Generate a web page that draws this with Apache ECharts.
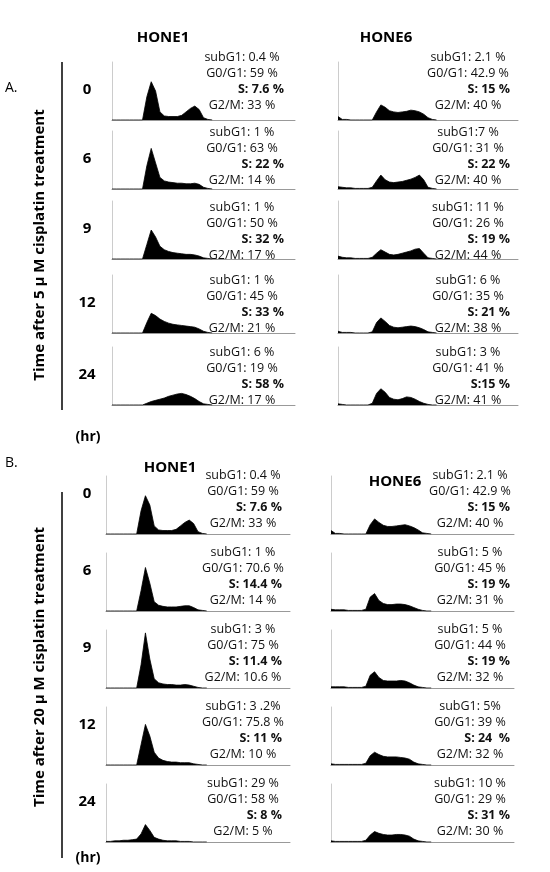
<!DOCTYPE html>
<html><head><meta charset="utf-8">
<script src="https://cdn.jsdelivr.net/npm/echarts@6/dist/echarts.min.js"></script>
<style>html,body{margin:0;padding:0;background:#fff}#c{width:550px;height:872px}</style>
</head><body><div id="c"></div>
<script>
const times = ['0','6','9','12','24'];
const cells = ['HONE1','HONE6'];
// histograms (DNA content bins), per condition / cell line / time
const histA1 = [
 [0,0,0,0,0,0,0,0,40,66,50,14,7,6,6,6,8,14,20,24,18,4,1,0],
 [0,0,0,0,0,0,0,0,40,70,45,20,14,12,11,10,10,9,9,10,8,3,1,0],
 [0,0,0,0,0,0,0,0,25,50,38,22,16,13,11,10,9,8,8,7,5,2,1,0],
 [0,0,0,0,0,0,0,0,18,34,30,24,20,17,15,14,13,12,11,10,7,3,1,0],
 [0,0,0,0,0,0,0,0,3,6,8,10,12,15,17,19,20,18,15,11,6,2,1,0]
];
const histA6 = [
 [6,1,1,0,0,0,0,0,0,14,26,22,16,14,13,14,15,17,16,14,10,4,1,0],
 [4,3,2,2,1,1,1,1,3,14,24,16,12,11,12,13,15,17,20,24,16,3,1,0],
 [5,3,2,2,1,1,1,1,3,10,16,12,8,7,8,10,12,14,17,18,10,2,1,0],
 [3,1,1,1,0,0,0,0,2,18,26,20,13,10,9,10,11,12,11,9,6,2,1,0],
 [2,1,0,0,0,0,0,0,3,20,28,22,13,10,9,11,14,13,10,6,3,1,0,0]
];
const histB1 = [
 [0,0,0,0,0,0,0,0,40,66,50,14,7,6,6,6,8,14,20,24,18,4,1,0],
 [0,0,0,0,0,0,0,0,35,75,48,16,10,8,7,7,7,8,9,9,6,2,1,0],
 [0,0,0,0,0,0,0,0,40,95,50,16,9,7,6,6,5,5,6,5,3,1,0,0],
 [0,0,0,0,0,0,0,0,35,70,50,22,12,8,6,5,5,4,4,4,2,1,0,0],
 [1,1,2,2,3,3,4,5,14,30,20,8,5,3,2,2,2,1,1,1,0,0,0,0]
];
const histB6 = [
 [6,1,1,0,0,0,0,0,0,16,26,20,15,13,13,14,15,16,14,11,7,2,1,0],
 [3,2,2,2,1,1,1,1,3,24,30,18,13,11,11,12,12,11,9,6,3,1,0,0],
 [2,2,2,2,1,1,1,1,3,22,28,18,13,12,12,12,13,12,9,5,2,1,0,0],
 [2,1,1,1,1,1,1,1,3,16,22,18,15,14,14,14,13,12,10,5,2,1,0,0],
 [2,1,1,1,1,1,1,1,3,12,18,15,13,12,12,13,13,12,10,5,2,1,0,0]
];
const statsA1 = [
 ['subG1: 0.4 %','G0/G1: 59 %','S: 7.6 %','G2/M: 33 %'],
 ['subG1: 1 %','G0/G1: 63 %','S: 22 %','G2/M: 14 %'],
 ['subG1: 1 %','G0/G1: 50 %','S: 32 %','G2/M: 17 %'],
 ['subG1: 1 %','G0/G1: 45 %','S: 33 %','G2/M: 21 %'],
 ['subG1: 6 %','G0/G1: 19 %','S: 58 %','G2/M: 17 %']
];
const statsA6 = [
 ['subG1: 2.1 %','G0/G1: 42.9 %','S: 15 %','G2/M: 40 %'],
 ['subG1:7 %','G0/G1: 31 %','S: 22 %','G2/M: 40 %'],
 ['subG1: 11 %','G0/G1: 26 %','S: 19 %','G2/M: 44 %'],
 ['subG1: 6 %','G0/G1: 35 %','S: 21 %','G2/M: 38 %'],
 ['subG1: 3 %','G0/G1: 41 %','S:15 %','G2/M: 41 %']
];
const statsB1 = [
 ['subG1: 0.4 %','G0/G1: 59 %','S: 7.6 %','G2/M: 33 %'],
 ['subG1: 1 %','G0/G1: 70.6 %','S: 14.4 %','G2/M: 14 %'],
 ['subG1: 3 %','G0/G1: 75 %','S: 11.4 %','G2/M: 10.6 %'],
 ['subG1: 3 .2%','G0/G1: 75.8 %','S: 11 %','G2/M: 10 %'],
 ['subG1: 29 %','G0/G1: 58 %','S: 8 %','G2/M: 5 %']
];
const statsB6 = [
 ['subG1: 2.1 %','G0/G1: 42.9 %','S: 15 %','G2/M: 40 %'],
 ['subG1: 5 %','G0/G1: 45 %','S: 19 %','G2/M: 31 %'],
 ['subG1: 5 %','G0/G1: 44 %','S: 19 %','G2/M: 32 %'],
 ['subG1: 5%','G0/G1: 39 %','S: 24  %','G2/M: 32 %'],
 ['subG1: 10 %','G0/G1: 29 %','S: 31 %','G2/M: 30 %']
];

const F = 'Open Sans, Liberation Sans, sans-serif';
const grids = [], xAxes = [], yAxes = [], series = [], graphic = [];
function panel(hist, stats, left, right, base, txtTop, cx, sr) {
  const i = grids.length;
  grids.push({left: left, width: right-left, top: base-58, height: 58});
  xAxes.push({gridIndex:i, type:'value', min:0, max:42, axisLine:{lineStyle:{color:'#999',width:1}},
    axisTick:{show:false}, axisLabel:{show:false}, splitLine:{show:false}});
  yAxes.push({gridIndex:i, type:'value', min:0, max:100, axisLine:{show:true,lineStyle:{color:'#ccc',width:1}},
    axisTick:{show:false}, axisLabel:{show:false}, splitLine:{show:false}});
  series.push({type:'line', xAxisIndex:i, yAxisIndex:i, data: hist.map((v,k)=>[k,v]),
    symbol:'none', lineStyle:{color:'#000',width:0.8}, areaStyle:{color:'#000',opacity:1}, silent:true});
  stats.forEach((s,k)=>{
    const bold = k===2;
    graphic.push({type:'text', x: bold? sr : cx, y: txtTop + k*16.3,
      style:{text:s, font:(bold?'bold ':'')+'12.5px '+F, fill:'#111', textAlign: bold?'right':'center', textVerticalAlign:'middle'}});
  });
}
const aBase=[120,189,259,333,405], aTxt=[57,132,207,280,352];
const bBase=[534,611,688,765,842], bTxt=[475,552,629,706,783];
for (let r=0;r<5;r++){
  panel(histA1[r], statsA1[r], 112, 295, aBase[r], aTxt[r], 242, 284);
  panel(histA6[r], statsA6[r], 338, 518, aBase[r], aTxt[r], 468, 510);
  panel(histB1[r], statsB1[r], 106, 290, bBase[r], bTxt[r], 243, 282);
  panel(histB6[r], statsB6[r], 331, 514, bBase[r], bTxt[r], 470, 510);
}
function txt(t,x,y,size,bold,align){graphic.push({type:'text',x:x,y:y,style:{text:t,font:(bold?'bold ':'')+size+'px '+F,fill:'#000',textAlign:align||'center',textVerticalAlign:'middle'}});}
txt('A.',5,88,14,false,'left');
txt('B.',5,463,14,false,'left');
txt(cells[0],163,38,15,true); txt(cells[1],386,38,15,true);
txt(cells[0],170,468,15,true); txt(cells[1],395,482,15,true);
for (let r=0;r<5;r++){ txt(times[r],87,aBase[r]-30,15,true); txt(times[r],87,bBase[r]-40,15,true); }
txt('(hr)',88,437,14,true); txt('(hr)',88,858,14,true);
graphic.push({type:'line',shape:{x1:62,y1:62,x2:62,y2:410},style:{stroke:'#000',lineWidth:1.5}});
graphic.push({type:'line',shape:{x1:62,y1:492,x2:62,y2:858},style:{stroke:'#000',lineWidth:1.5}});
graphic.push({type:'text',x:40,y:245,rotation:Math.PI/2,style:{text:'Time after 5 \u03bc M cisplatin treatment',font:'bold 15px '+F,fill:'#000',textAlign:'center',textVerticalAlign:'middle'}});
graphic.push({type:'text',x:40,y:667,rotation:Math.PI/2,style:{text:'Time after 20 \u03bc M cisplatin treatment',font:'bold 15px '+F,fill:'#000',textAlign:'center',textVerticalAlign:'middle'}});

const chart = echarts.init(document.getElementById('c'));
chart.setOption({animation:false, grid:grids, xAxis:xAxes, yAxis:yAxes, series:series, graphic:graphic});
</script></body></html>
